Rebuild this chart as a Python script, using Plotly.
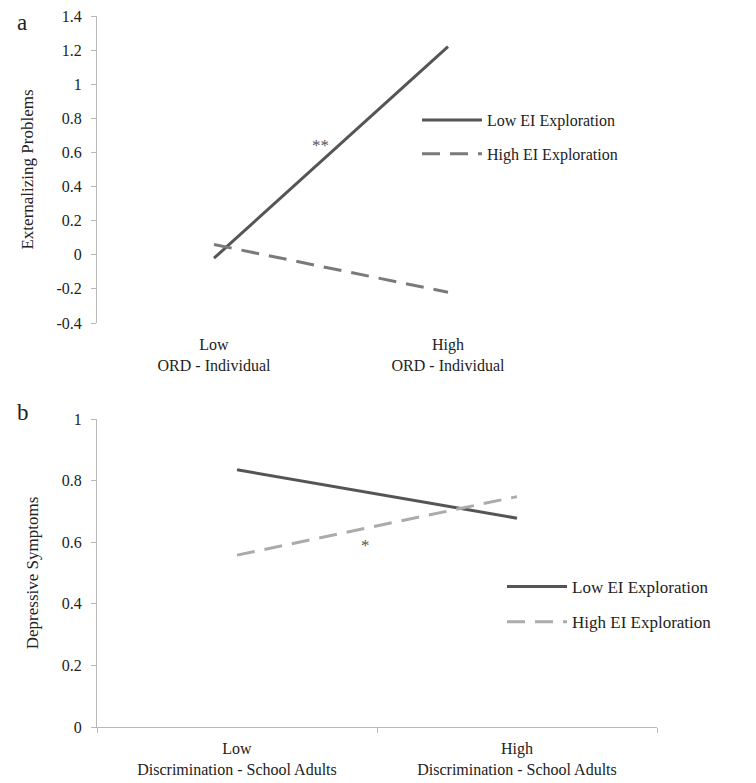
import plotly.graph_objects as go

# ---- data ----
cats_a = ["Low<br>ORD - Individual", "High<br>ORD - Individual"]
low_ei_a = [-0.02, 1.22]
high_ei_a = [0.06, -0.22]

cats_b = ["Low<br>Discrimination - School Adults", "High<br>Discrimination - School Adults"]
low_ei_b = [0.835, 0.678]
high_ei_b = [0.558, 0.748]

series_names = ["Low EI Exploration", "High EI Exploration"]
yticks_a = [-0.4, -0.2, 0, 0.2, 0.4, 0.6, 0.8, 1, 1.2, 1.4]
ytick_text_a = ["-0.4", "-0.2", "0", "0.2", "0.4", "0.6", "0.8", "1", "1.2", "1.4"]
yticks_b = [0, 0.2, 0.4, 0.6, 0.8, 1]
ytick_text_b = ["0", "0.2", "0.4", "0.6", "0.8", "1"]
yrange_a = [-0.4, 1.4]
yrange_b = [0, 1]

OFF = 8  # page body margin
W, H = 756 - OFF, 783 - OFF
FONT = "Liberation Serif"
AX = "#b8b8b8"
TXT = "#222222"

# plot-area box in screen pixels
SL, SR, ST, SB = 97, 657, 16, 727
L, R, T, B = SL - OFF, SR - OFF, ST - OFF, SB - OFF
PW, PH = SR - SL, SB - ST

def fx(p):
    return (p - SL) / PW

def fy(p):
    return (SB - p) / PH

xa_dom = [0, fx(565)]
xb_dom = [0, 1]
ya_dom = [fy(323), 1]
yb_dom = [0, fy(419)]

DASH = "18px,10px"

fig = go.Figure()

fig.add_trace(go.Scatter(x=cats_a, y=low_ei_a, mode="lines", name=series_names[0],
                         line=dict(color="#555555", width=3), xaxis="x", yaxis="y",
                         legend="legend", legendgroup="a1"))
fig.add_trace(go.Scatter(x=cats_a, y=high_ei_a, mode="lines", name=series_names[1],
                         line=dict(color="#7a7a7a", width=3, dash=DASH), xaxis="x", yaxis="y",
                         legend="legend", legendgroup="a2"))
fig.add_trace(go.Scatter(x=cats_b, y=low_ei_b, mode="lines", name=series_names[0],
                         line=dict(color="#555555", width=3), xaxis="x2", yaxis="y2",
                         legend="legend2", legendgroup="b1"))
fig.add_trace(go.Scatter(x=cats_b, y=high_ei_b, mode="lines", name=series_names[1],
                         line=dict(color="#ababab", width=3, dash=DASH), xaxis="x2", yaxis="y2",
                         legend="legend2", legendgroup="b2"))

# zero-line axis position for panel a
zero_frac = ya_dom[0] + (0 - yrange_a[0]) / (yrange_a[1] - yrange_a[0]) * (ya_dom[1] - ya_dom[0])

tickfont = dict(family=FONT, size=16, color=TXT)
catfont = dict(family=FONT, size=16, color=TXT)

fig.update_layout(
    width=W, height=H,
    margin=dict(l=L, r=W - R, t=T, b=H - B, autoexpand=False),
    paper_bgcolor="white", plot_bgcolor="white",
    font=dict(family=FONT, color=TXT),
    xaxis=dict(domain=xa_dom, anchor="y", type="category", range=[-0.5, 1.5],
               showline=False, ticks="", showgrid=False, tickfont=catfont,
               ticklabelstandoff=10),
    xaxis3=dict(domain=xa_dom, overlaying="x", anchor="free", position=zero_frac,
                range=[-0.5, 1.5], tickvals=[-0.5, 0.5, 1.5], showticklabels=False,
                ticks="outside", ticklen=5, tickcolor=AX, showline=True, linecolor=AX,
                linewidth=1, showgrid=False, zeroline=False),
    yaxis=dict(domain=ya_dom, anchor="x", range=yrange_a, tickvals=yticks_a, ticktext=ytick_text_a,
               showline=True, linecolor=AX, ticks="outside", ticklen=5, tickcolor=AX,
               ticklabelstandoff=6, ticklabeloverflow="allow",
               showgrid=False, zeroline=False, tickfont=tickfont,
               title=dict(text="Externalizing Problems", font=dict(family=FONT, size=17, color=TXT), standoff=18)),
    xaxis2=dict(domain=xb_dom, anchor="y2", type="category", range=[-0.5, 1.5],
                showline=True, linecolor=AX, ticks="outside", tickson="boundaries", ticklen=5,
                tickcolor=AX, showgrid=False, tickfont=catfont, ticklabelstandoff=7,
                ticklabeloverflow="allow"),
    yaxis2=dict(domain=yb_dom, anchor="x2", range=yrange_b, tickvals=yticks_b, ticktext=ytick_text_b,
                showline=True, linecolor=AX, ticks="outside", ticklen=5, tickcolor=AX,
                ticklabelstandoff=6, ticklabeloverflow="allow",
                showgrid=False, zeroline=False, tickfont=tickfont,
                title=dict(text="Depressive Symptoms", font=dict(family=FONT, size=17, color=TXT), standoff=18)),
    legend=dict(x=fx(417), y=fy(103), xanchor="left", yanchor="top",
                font=dict(family=FONT, size=16, color=TXT), tracegroupgap=10,
                itemwidth=60, bgcolor="rgba(0,0,0,0)"),
    legend2=dict(x=fx(502), y=fy(569), xanchor="left", yanchor="top",
                 font=dict(family=FONT, size=17, color=TXT), tracegroupgap=10,
                 itemwidth=60, bgcolor="rgba(0,0,0,0)"),
    showlegend=True,
)

fig.add_annotation(text="**", x=0.455, y=0.64, xref="x", yref="y", showarrow=False,
                   font=dict(family=FONT, size=17, color="#555555"))
fig.add_annotation(text="*", x=0.46, y=0.59, xref="x2", yref="y2", showarrow=False,
                   font=dict(family=FONT, size=17, color="#555555"))
fig.add_annotation(text="a", x=fx(15), y=fy(8), xref="paper", yref="paper",
                   xanchor="left", yanchor="top", showarrow=False,
                   font=dict(family=FONT, size=23, color=TXT))
fig.add_annotation(text="b", x=fx(15), y=fy(398), xref="paper", yref="paper",
                   xanchor="left", yanchor="top", showarrow=False,
                   font=dict(family=FONT, size=23, color=TXT))

fig.write_html("out.html")
